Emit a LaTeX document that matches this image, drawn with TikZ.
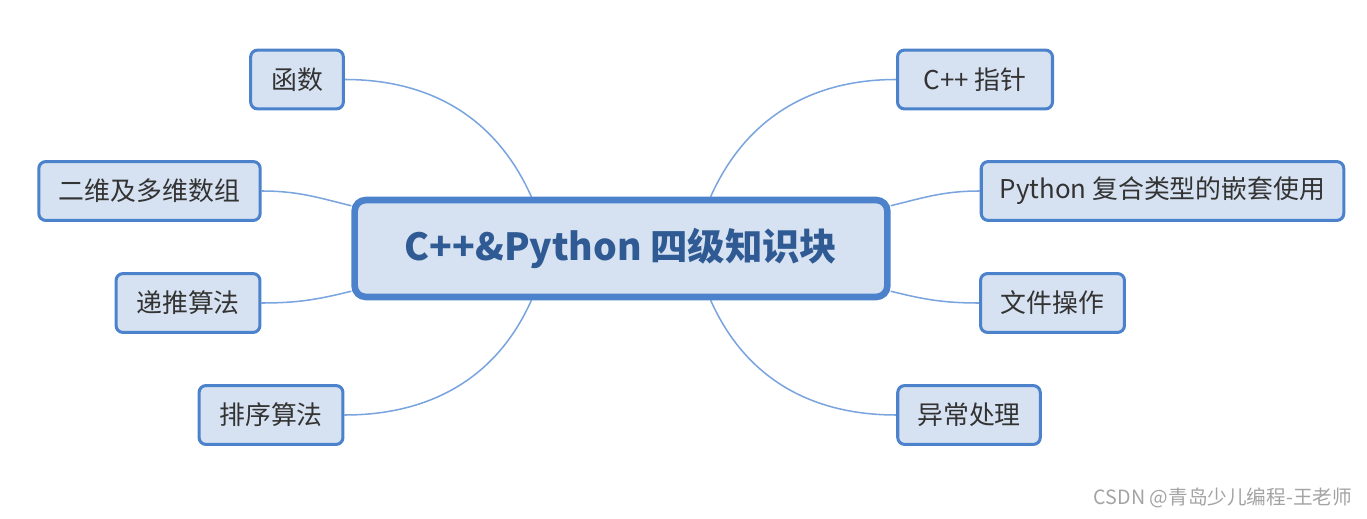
\documentclass[tikz,border=0pt]{standalone}
\usepackage{fontspec}
\setmainfont{Noto Sans CJK SC}
\usetikzlibrary{positioning,backgrounds}
\definecolor{topicfill}{HTML}{D6E2F1}
\definecolor{topicline}{HTML}{4C82CB}
\definecolor{branchline}{HTML}{7AA4DE}
\definecolor{topictext}{HTML}{333333}
\definecolor{roottext}{HTML}{2F5A93}
\definecolor{marktext}{HTML}{A3A3A3}

\begin{document}
\begin{tikzpicture}[
    x=0.254mm, y=-0.254mm,
    root/.style={draw=topicline, line width=4.8pt, rounded corners=8pt, fill=topicfill, minimum width=385pt, minimum height=70pt, font=\fontsize{27}{32}\selectfont\bfseries, text=roottext},
    topic/.style={draw=topicline, line width=2.2pt, rounded corners=5pt, fill=topicfill, minimum height=42.5pt, inner xsep=0pt, font=\fontsize{18.7}{22}\selectfont, text=topictext},
    branch/.style={draw=branchline, line width=1.1pt}
  ]
    \useasboundingbox (0,0) rectangle (1367,519);
    \node[root] (core) at (621,248.5) {C++\&Python 四级知识块};

    \node[topic, minimum width=67pt]  (func)   at (297,79.5)   {函数};
    \node[topic, minimum width=160pt] (array)  at (149.5,191)  {二维及多维数组};
    \node[topic, minimum width=104pt] (recur)  at (188,303)    {递推算法};
    \node[topic, minimum width=104pt] (sort)   at (271,415)    {排序算法};
    \node[topic, minimum width=112pt] (ptr)    at (975,79.5)   {C++ 指针};
    \node[topic, minimum width=262pt] (nest)   at (1162.5,191) {Python 复合类型的嵌套使用};
    \node[topic, minimum width=104pt] (file)   at (1052.5,303) {文件操作};
    \node[topic, minimum width=103pt] (except) at (969,415)    {异常处理};

    \begin{scope}[on background layer]
      \draw[branch] (func.east)  to[out=0, in=114]   (core.150);
      \draw[branch] (array.east) to[out=0, in=166]   (core.171);
      \draw[branch] (recur.east) to[out=0, in=194]   (core.189);
      \draw[branch] (sort.east)  to[out=0, in=246]   (core.210);
      \draw[branch] (ptr.west)    to[out=180, in=66]  (core.30);
      \draw[branch] (nest.west)   to[out=180, in=14]  (core.9);
      \draw[branch] (file.west)   to[out=180, in=-14] (core.351);
      \draw[branch] (except.west) to[out=180, in=-66] (core.330);
    \end{scope}

    \node[font=\fontsize{14.2}{17}\selectfont, text=marktext] (mark) at (1223,498) {CSDN @青岛少儿编程-王老师};
  \end{tikzpicture}
\end{document}
